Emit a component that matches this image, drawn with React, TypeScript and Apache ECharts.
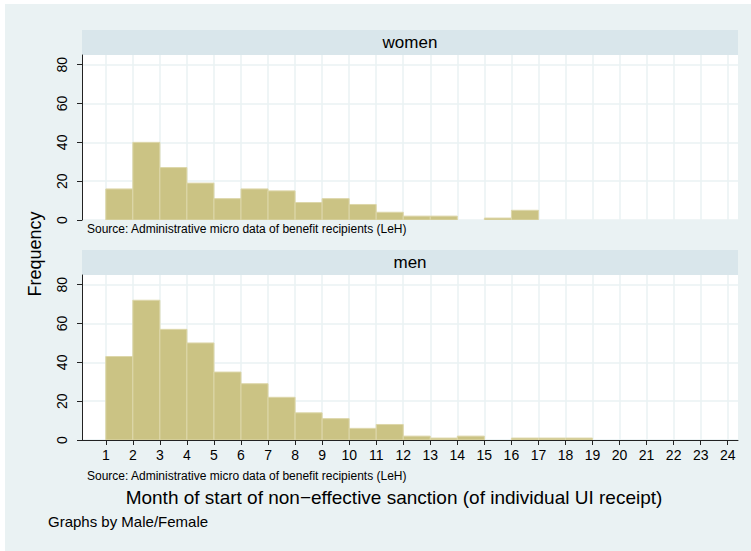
import React, { useEffect, useRef } from "react";
import * as echarts from "echarts";

const months = [1, 2, 3, 4, 5, 6, 7, 8, 9, 10, 11, 12, 13, 14, 15, 16, 17, 18, 19, 20, 21, 22, 23, 24];
const tickMonths = [1, 2, 3, 4, 5, 6, 7, 8, 9, 10, 11, 12, 13, 14, 15, 16, 17, 18, 19, 20, 21, 22, 23, 24];
const womenFreq = [16, 40, 27, 19, 11, 16, 15, 9, 11, 8, 4, 2, 2, 0, 1, 5, 0, 0, 0, 0, 0, 0, 0, 0];
const menFreq = [43, 72, 57, 50, 35, 29, 22, 14, 11, 6, 8, 2, 1, 2, 0, 1, 1, 1, 0, 0, 0, 0, 0, 0];
const yTicks = [0, 20, 40, 60, 80];
const panelNames = ["women", "men"];
const sourceNote = "Source: Administrative micro data of benefit recipients (LeH)";
const xTitle = "Month of start of non\u2212effective sanction (of individual UI receipt)";
const yTitle = "Frequency";
const byNote = "Graphs by Male/Female";

const FONT = "'Liberation Sans', Arial, Helvetica, sans-serif";
const BG = "#eaf2f3";
const STRIP = "#d9e6eb";
const GRID_LINE = "#eaf2f3";
const BAR_FILL = "#cbc384";
const BAR_EDGE = "#ddd7aa";
const AXIS = "#222";

export default function App() {
  const ref = useRef<HTMLDivElement>(null);
  useEffect(() => {
    if (!ref.current) return;
    const chart = echarts.init(ref.current, undefined, { renderer: "svg" });
    const gridLeft = 77;
    const gridRight = 13;
    const gridW = 746 - gridLeft - gridRight;
    const grids = [
      { left: gridLeft, right: gridRight, top: 51, height: 165 },
      { left: gridLeft, right: gridRight, top: 271, height: 165 },
    ];
    const series = [womenFreq, menFreq].map((arr, i) => ({
      type: "custom",
      xAxisIndex: i,
      yAxisIndex: i,
      clip: true,
      data: months.map((m, k) => [m, arr[k]]).filter((d) => d[1] > 0),
      renderItem: (params: any, api: any) => {
        const x0 = api.value(0);
        const v = api.value(1);
        const p0 = api.coord([x0, v]);
        const p1 = api.coord([x0 + 1, 0]);
        return {
          type: "rect",
          shape: { x: p0[0], y: p0[1], width: p1[0] - p0[0], height: p1[1] - p0[1] },
          style: { fill: BAR_FILL, stroke: BAR_EDGE, lineWidth: 1 },
        };
      },
    }));
    const xAxes = [0, 1].map((i) => ({
      type: "value",
      gridIndex: i,
      min: 0.12,
      max: 24.38,
      axisLine: { show: i === 1, onZero: false, lineStyle: { color: AXIS, width: 1 } },
      axisTick: { show: i === 1, length: 5, customValues: tickMonths, lineStyle: { color: AXIS } },
      axisLabel: {
        show: i === 1,
        customValues: tickMonths,
        fontFamily: FONT,
        fontSize: 14,
        color: "#000",
        margin: 8,
      },
      splitLine: { show: true, lineStyle: { color: GRID_LINE, width: 1.5 } },
    }));
    const yAxes = [0, 1].map((i) => ({
      type: "value",
      gridIndex: i,
      min: 0,
      max: 85,
      axisLine: { show: true, onZero: false, lineStyle: { color: AXIS, width: 1 } },
      axisTick: { show: true, length: 5, customValues: yTicks, lineStyle: { color: AXIS } },
      axisLabel: {
        customValues: yTicks,
        rotate: 90,
        fontFamily: FONT,
        fontSize: 14,
        color: "#000",
        margin: 13,
      },
      splitLine: { show: true, lineStyle: { color: GRID_LINE, width: 1.5 } },
    }));
    const stripTops = [26, 246];
    const noteYs = [225, 472];
    const graphic: any[] = [];
    panelNames.forEach((name, i) => {
      graphic.push({
        type: "rect",
        silent: true,
        z: -1,
        shape: { x: gridLeft, y: stripTops[i], width: gridW, height: grids[i].top - stripTops[i] },
        style: { fill: STRIP },
      });
      graphic.push({
        type: "text",
        silent: true,
        x: gridLeft + gridW / 2,
        y: (stripTops[i] + grids[i].top) / 2,
        style: {
          text: name,
          fontFamily: FONT,
          fontSize: 17,
          fill: "#000",
          align: "center",
          verticalAlign: "middle",
        },
      });
      graphic.push({
        type: "text",
        silent: true,
        x: 82,
        y: noteYs[i],
        style: {
          text: sourceNote,
          fontFamily: FONT,
          fontSize: 12,
          fill: "#000",
          align: "left",
          verticalAlign: "middle",
        },
      });
    });
    graphic.push({
      type: "text",
      silent: true,
      x: 30,
      y: 250,
      rotation: Math.PI / 2,
      style: {
        text: yTitle,
        fontFamily: FONT,
        fontSize: 18,
        fill: "#000",
        align: "center",
        verticalAlign: "middle",
      },
    });
    graphic.push({
      type: "text",
      silent: true,
      x: 389,
      y: 493,
      style: {
        text: xTitle,
        fontFamily: FONT,
        fontSize: 19,
        fill: "#000",
        align: "center",
        verticalAlign: "middle",
      },
    });
    graphic.push({
      type: "text",
      silent: true,
      x: 43,
      y: 517,
      style: {
        text: byNote,
        fontFamily: FONT,
        fontSize: 15,
        fill: "#000",
        align: "left",
        verticalAlign: "middle",
      },
    });
    chart.setOption({
      animation: false,
      backgroundColor: BG,
      grid: grids.map((g) => ({ ...g, show: true, backgroundColor: "#fff", borderWidth: 0 })),
      xAxis: xAxes,
      yAxis: yAxes,
      series,
      graphic,
    });
    return () => chart.dispose();
  }, []);
  return (
    <div
      ref={ref}
      style={{ position: "absolute", left: 5, top: 4, width: 746, height: 547 }}
    />
  );
}
